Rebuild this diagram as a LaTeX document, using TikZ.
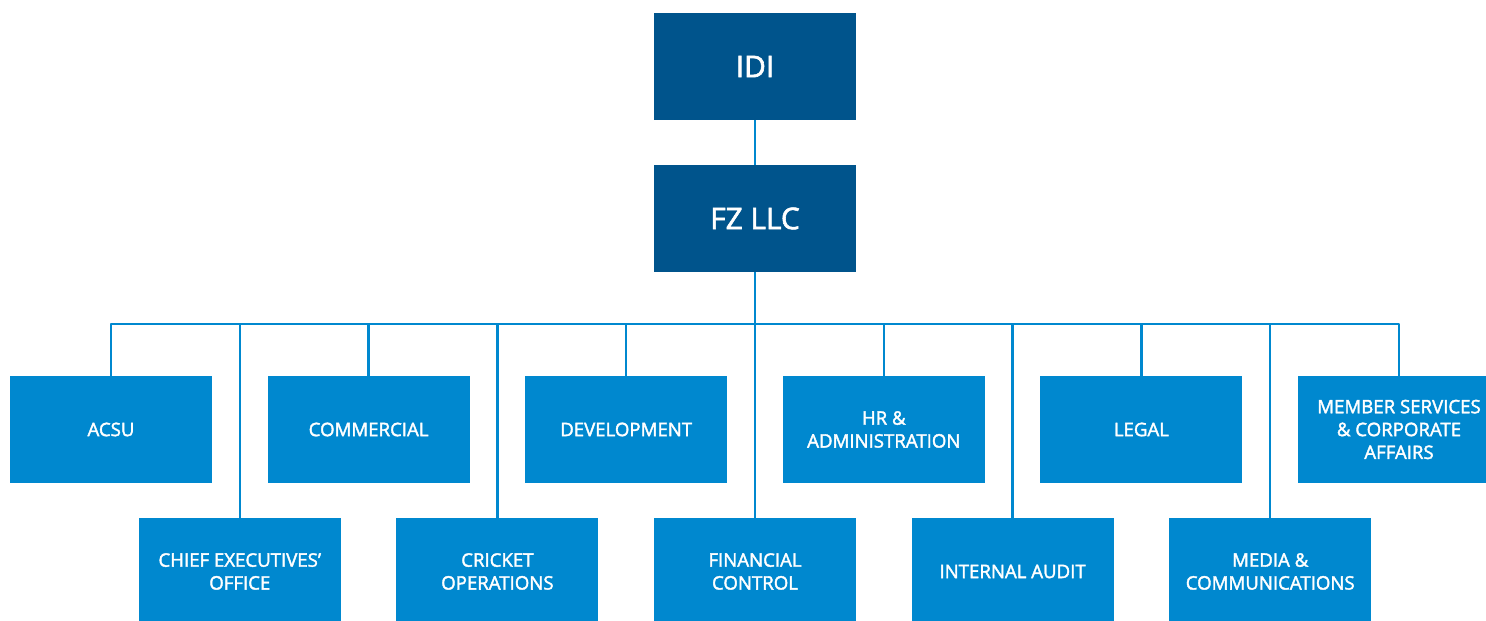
\documentclass[tikz,border=0pt]{standalone}
\usepackage{fontspec}
\setmainfont{Open Sans}[UprightFeatures={FakeBold=2}]
\usetikzlibrary{calc}
\definecolor{idiblue}{RGB}{0,84,140}
\definecolor{deptblue}{RGB}{0,136,207}
\tikzset{
  >=stealth,
  topbox/.style={fill=idiblue, text=white, minimum width=4.04cm, minimum height=2.14cm,
    font=\fontsize{17}{20}\selectfont},
  deptbox/.style={fill=deptblue, text=white, minimum width=4.04cm, minimum height=2.14cm,
    align=center, font=\fontsize{10.6}{13}\selectfont},
  link/.style={draw=deptblue, line width=1.4pt, line join=round},
}

\begin{document}
\begin{tikzpicture}
    \path[use as bounding box, clip] (0,0) rectangle (29.72,12.42);
    \node[topbox] (idi) at (15.10,11.09) {IDI};
    \node[topbox] (fz) at (15.10,8.05) {FZ LLC};
    \coordinate (bus) at (0,5.94);
    % departments alternate between the upper and the lower row
    \foreach \k/\dept/\txt in {0/acsu/ACSU, 2/comm/COMMERCIAL, 4/devel/DEVELOPMENT,
        6/hr/{HR \&\\ADMINISTRATION}, 8/legal/LEGAL,
        10/member/{MEMBER SERVICES\\\& CORPORATE\\AFFAIRS}} {
        \node[deptbox] (\dept) at ({2.22+2.576*\k},3.83) {\txt};
      }
    \foreach \k/\dept/\txt in {1/ceo/{CHIEF EXECUTIVES’\\OFFICE}, 3/cricket/{CRICKET\\OPERATIONS},
        5/finance/{FINANCIAL\\CONTROL}, 7/audit/INTERNAL AUDIT,
        9/media/{MEDIA \&\\COMMUNICATIONS}} {
        \node[deptbox] (\dept) at ({2.22+2.576*\k},0.99) {\txt};
      }
    \draw[link] (idi) -- (fz);
    \draw[link] (fz) -- (bus -| fz.south);
    \draw[link] (acsu.north) |- (bus -| member.north) -- (member.north);
    \foreach \dept in {comm,devel,hr,legal,ceo,cricket,finance,audit,media} {
        \draw[link] (\dept.north) -- (bus -| \dept.north);
      }
  \end{tikzpicture}
\end{document}
